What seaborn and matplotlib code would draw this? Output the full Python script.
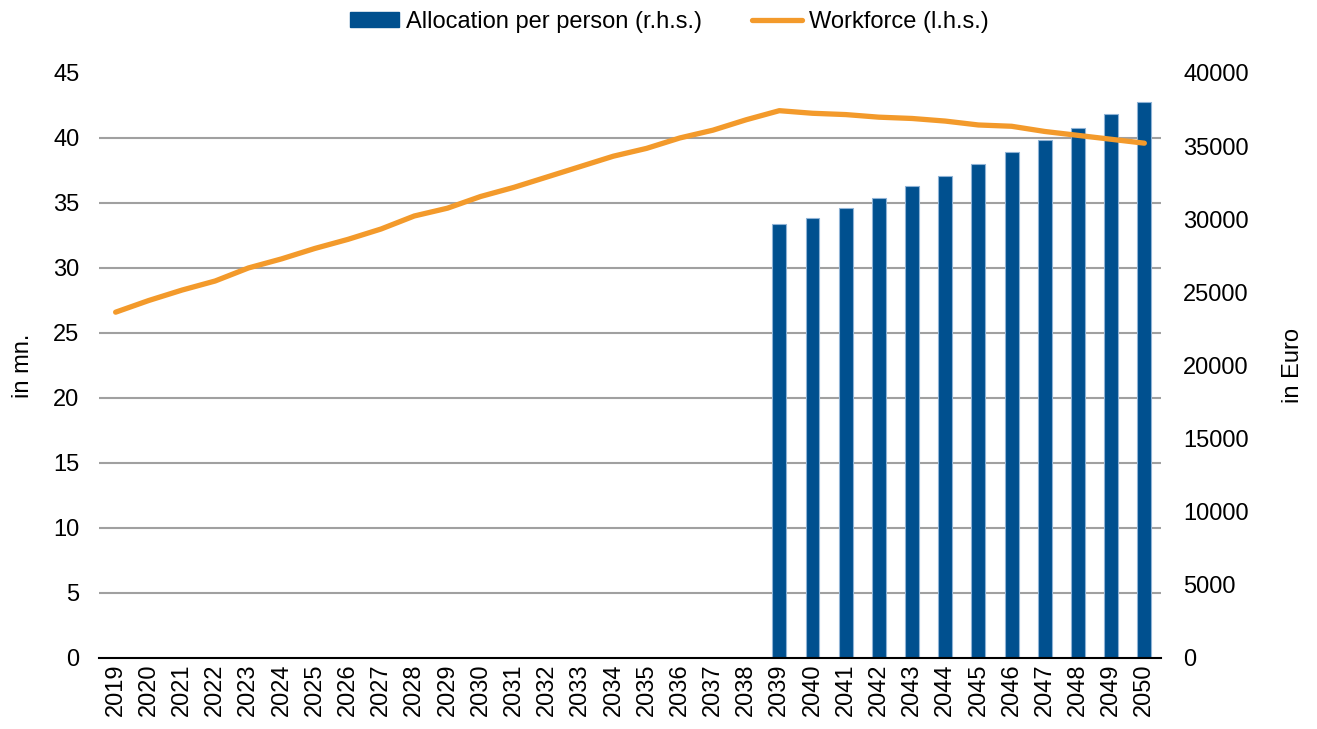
import numpy as np
import pandas as pd
import matplotlib
matplotlib.use("Agg")
import matplotlib.pyplot as plt
from matplotlib.patches import Patch
from matplotlib.lines import Line2D
import seaborn as sns

# =====================================================
# Data
# =====================================================

years = [str(y) for y in range(2019, 2051)]

workforce = [
    26.6, 27.5, 28.3, 29.0, 30.0, 30.7, 31.5, 32.2, 33.0, 34.0,
    34.6, 35.5, 36.2, 37.0, 37.8, 38.6, 39.2, 40.0, 40.6, 41.4,
    42.1, 41.9, 41.8, 41.6, 41.5, 41.3, 41.0, 40.9, 40.5, 40.2,
    39.9, 39.6,
]

allocation = [np.nan] * 20 + [
    29700, 30100, 30750, 31450, 32270, 32960,
    33750, 34600, 35420, 36220, 37170, 38000,
]

bar_label = "Allocation per person (r.h.s.)"
line_label = "Workforce (l.h.s.)"

blue = "#00508F"
orange = "#F39A2B"
grid_grey = "#A0A0A0"

df = pd.DataFrame({"year": years, "workforce": workforce, "allocation": allocation})

# =====================================================
# Figure
# =====================================================

sns.set_theme(style="white")
plt.rcParams["font.family"] = ["Liberation Sans", "DejaVu Sans"]
plt.rcParams["text.color"] = "black"
plt.rcParams["axes.labelcolor"] = "black"
plt.rcParams["xtick.color"] = "black"
plt.rcParams["ytick.color"] = "black"
fs = 17

fig = plt.figure(figsize=(13.17, 7.29), dpi=100)
ax_r = fig.add_axes([0.0752, 0.0974, 0.8063, 0.8025])

# bars on the right-hand scale
sns.barplot(
    data=df,
    x="year",
    y="allocation",
    order=years,
    color=blue,
    width=0.42,
    edgecolor="#8FB3D6",
    linewidth=0.8,
    saturation=1,
    ax=ax_r,
)

# line on the left-hand scale (twin axes drawn on top of the bars)
ax_l = ax_r.twinx()
sns.lineplot(
    x=np.arange(len(years)),
    y=df["workforce"],
    color=orange,
    linewidth=3.8,
    solid_capstyle="round",
    ax=ax_l,
)

# right axis (bars)
ax_r.set_ylim(0, 40000)
ax_r.set_yticks(np.arange(0, 40001, 5000))
ax_r.yaxis.tick_right()
ax_r.yaxis.set_label_position("right")
ax_r.set_ylabel("in Euro", fontsize=fs, labelpad=24)
ax_r.set_xlabel("")
ax_r.set_xlim(-0.5, len(years) - 0.5)
ax_r.tick_params(axis="x", labelrotation=90, labelsize=fs, length=0, pad=4)
ax_r.tick_params(axis="y", labelsize=fs, length=0, pad=16)

# grid lines follow the left-hand scale, drawn behind the bars
left_ticks = np.arange(0, 46, 5)
ax_r.set_yticks(left_ticks * 40000 / 45, minor=True)
ax_r.grid(False)
ax_r.grid(True, which="minor", axis="y", color=grid_grey, linewidth=1.5)
ax_r.tick_params(axis="y", which="minor", length=0, right=False, left=False)
ax_r.set_axisbelow(True)

for side in ["top", "left", "right"]:
    ax_r.spines[side].set_visible(False)
ax_r.spines["bottom"].set_color("black")
ax_r.spines["bottom"].set_linewidth(1.5)

# left axis (line)
ax_l.set_ylim(0, 45)
ax_l.set_yticks(left_ticks)
ax_l.yaxis.tick_left()
ax_l.yaxis.set_label_position("left")
ax_l.set_ylabel("in mn.", fontsize=fs, labelpad=14)
ax_l.tick_params(axis="y", labelsize=fs, length=0, pad=14)
ax_l.grid(False)
for side in ["top", "left", "right", "bottom"]:
    ax_l.spines[side].set_visible(False)

# =====================================================
# Legend
# =====================================================

handles = [
    Patch(facecolor=blue, edgecolor=blue),
    Line2D([0], [0], color=orange, linewidth=3.8, solid_capstyle="round"),
]
fig.legend(
    handles,
    [bar_label, line_label],
    loc="center",
    bbox_to_anchor=(0.508, 0.97),
    ncol=2,
    frameon=False,
    fontsize=fs,
    handlelength=2.1,
    handleheight=0.65,
    handletextpad=0.3,
    columnspacing=2.1,
)

plt.savefig("out.png", dpi=100)
plt.close()
